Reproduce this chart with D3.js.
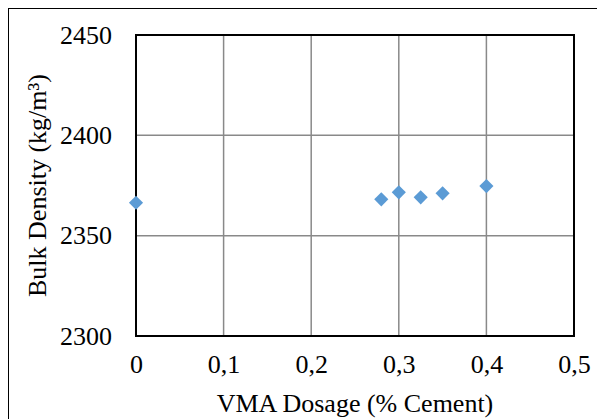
<!DOCTYPE html>
<html>
<head>
<meta charset="utf-8">
<script src="https://cdn.jsdelivr.net/npm/d3@7"></script>
<style>
  body { margin: 0; background: #fff; }
</style>
</head>
<body>
<div id="chart"></div>
<script>
const width = 597
const height = 419
const margin = { top: 35, right: 23, bottom: 83, left: 136 }
const font = '"Liberation Serif", "Times New Roman", serif'
const fontSize = '26px'

const dosage = [0, 0.28, 0.3, 0.325, 0.35, 0.4]
const density = [2366.4, 2368.1, 2371.6, 2369.1, 2371.1, 2374.7]
const xTicks = [0, 0.1, 0.2, 0.3, 0.4, 0.5]
const yTicks = [2300, 2350, 2400, 2450]

const fmt = (d) => d === 0 ? '0' : String(d).replace('.', ',')

const svg = d3.select('#chart')
  .append('svg')
  .attr('width', width)
  .attr('height', height)

// outer chart frame (cut off at right and bottom)
svg.append('rect')
  .attr('x', 8.5)
  .attr('y', 8.5)
  .attr('width', width + 10)
  .attr('height', height + 10)
  .attr('fill', 'none')
  .attr('stroke', '#000')
  .attr('stroke-width', 1)

const x = d3.scaleLinear()
  .domain([0, 0.5])
  .range([margin.left, width - margin.right])

const y = d3.scaleLinear()
  .domain([2300, 2450])
  .range([height - margin.bottom, margin.top])

const grid = svg.append('g')
  .attr('stroke', '#898989')
  .attr('stroke-width', 1.5)

grid.selectAll('line.vx')
  .data(xTicks.slice(1, -1))
  .enter()
  .append('line')
  .attr('x1', (d) => x(d))
  .attr('x2', (d) => x(d))
  .attr('y1', y(2300))
  .attr('y2', y(2450))

grid.selectAll('line.hy')
  .data(yTicks.slice(1, -1))
  .enter()
  .append('line')
  .attr('x1', x(0))
  .attr('x2', x(0.5))
  .attr('y1', (d) => y(d))
  .attr('y2', (d) => y(d))

// plot frame
svg.append('rect')
  .attr('x', x(0))
  .attr('y', y(2450))
  .attr('width', x(0.5) - x(0))
  .attr('height', y(2300) - y(2450))
  .attr('fill', 'none')
  .attr('stroke', '#000')
  .attr('stroke-width', 2)

const xAxis = svg.append('g')
  .attr('transform', `translate(0, ${y(2300)})`)
  .call(d3.axisBottom(x).tickValues(xTicks).tickSize(0).tickPadding(19).tickFormat(fmt))
xAxis.select('.domain').remove()

const yAxis = svg.append('g')
  .attr('transform', `translate(${x(0)}, 0)`)
  .call(d3.axisLeft(y).tickValues(yTicks).tickSize(0).tickPadding(24).tickFormat(d3.format('d')))
yAxis.select('.domain').remove()

svg.selectAll('.tick text')
  .style('font-family', font)
  .style('font-size', fontSize)
  .attr('fill', '#000')

svg.append('text')
  .attr('x', (x(0) + x(0.5)) / 2)
  .attr('y', 412)
  .attr('text-anchor', 'middle')
  .style('font-family', font)
  .style('font-size', fontSize)
  .text('VMA Dosage (% Cement)')

svg.append('text')
  .attr('transform', `translate(46, ${(y(2300) + y(2450)) / 2}) rotate(-90)`)
  .attr('text-anchor', 'middle')
  .style('font-family', font)
  .style('font-size', fontSize)
  .text('Bulk Density (kg/m³)')

const points = dosage.map((d, i) => ({ x: d, y: density[i] }))

svg.append('g')
  .selectAll('path')
  .data(points)
  .enter()
  .append('path')
  .attr('d', d3.symbol().type(d3.symbolSquare).size(100))
  .attr('transform', (d) => `translate(${x(d.x)}, ${y(d.y)}) rotate(45)`)
  .attr('fill', '#5B9BD5')
</script>
</body>
</html>
